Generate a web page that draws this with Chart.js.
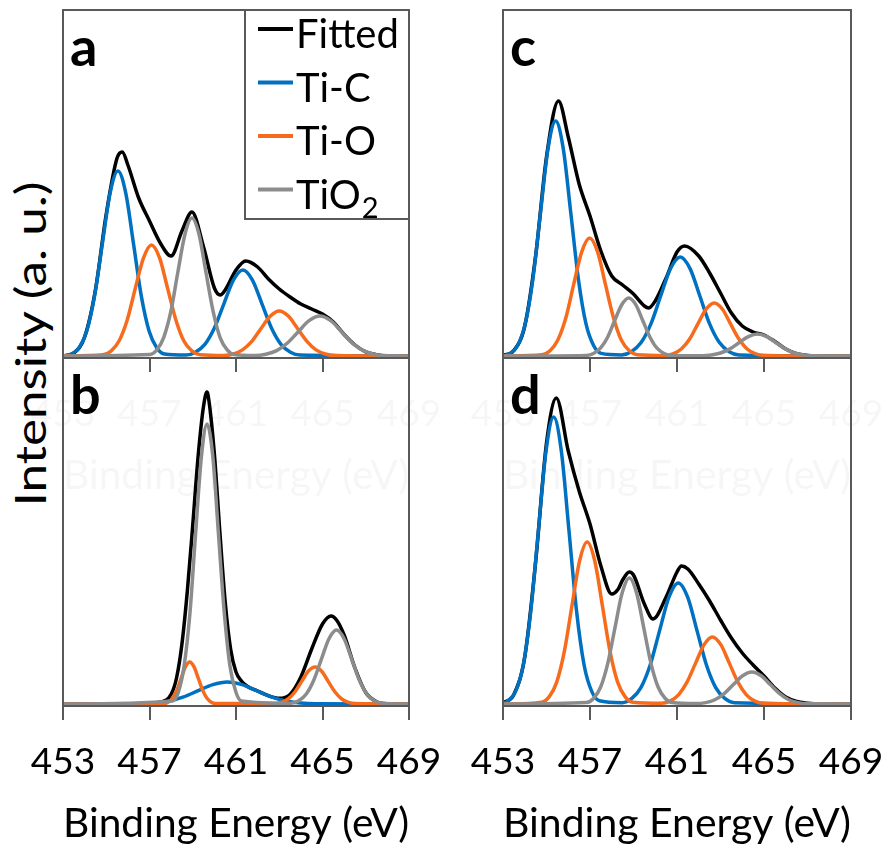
<!DOCTYPE html>
<html>
<head>
<meta charset="utf-8">
<script src="https://cdn.jsdelivr.net/npm/chart.js@4.4.1/dist/chart.umd.min.js"></script>
<style>
  html, body { margin: 0; padding: 0; background: #fff; }
  body { position: relative; width: 887px; height: 848px; overflow: hidden; font-family: Lato, sans-serif; }
  canvas { position: absolute; }
  #ytitle {
    position: absolute; left: 30px; top: 344px;
    font-size: 42px; line-height: 1; white-space: nowrap; color: #000;
    transform: translate(-50%, -50%) rotate(-90deg) scaleX(1.22);
  }
</style>
</head>
<body>
<div id="ytitle">Intensity (a. u.)</div>
<script>
// x axis
const energyTicks = [453, 457, 461, 465, 469];
const seriesNames = ['Fitted', 'Ti-C', 'Ti-O', 'TiO₂'];

// panel a
const fitA_E = [453, 453.5, 454, 454.5, 455, 455.5, 455.74, 456, 456.5, 457, 457.5, 458, 458.5, 458.96, 459.5, 460, 460.27, 460.5, 461, 461.45, 462, 462.5, 463, 463.5, 464, 464.5, 465, 465.5, 466, 466.5, 467, 467.5, 468, 469];
const fitA_I = [0, 3, 19, 66, 142, 198, 204, 191, 158, 135, 113, 100, 125, 144, 109, 68, 61, 66, 86, 95, 89, 77, 67, 59, 52, 47, 42, 34, 21.5, 11, 4.2, 1.3, 0, 0];
const tiCA_E = [453, 453.38, 453.74, 454.10, 454.46, 454.82, 455.18, 455.54, 455.90, 456.26, 456.62, 456.98, 457.34, 457.70, 458.68, 459.12, 459.56, 460.00, 460.44, 460.88, 461.32, 461.76, 462.20, 462.64, 463.08, 463.52, 463.96, 469];
const tiCA_I = [0, 2.0, 8.1, 25.0, 60.1, 112.3, 163.2, 185, 163.2, 112.3, 60.1, 25.0, 8.1, 2.0, 0.9, 3.8, 11.6, 28.0, 52.2, 75.9, 86, 75.9, 52.2, 28.0, 11.6, 3.8, 0.9, 0];
const tiOA_E = [453, 454.84, 455.22, 455.59, 455.97, 456.34, 456.72, 457.09, 457.47, 457.84, 458.22, 458.59, 458.97, 459.34, 460.45, 460.88, 461.30, 461.73, 462.15, 462.58, 463.00, 463.43, 463.85, 464.28, 464.70, 465.13, 465.55, 469];
const tiOA_I = [0, 1.2, 4.9, 15.0, 36.1, 67.4, 97.9, 111, 97.9, 67.4, 36.1, 15.0, 4.9, 1.2, 0.5, 2.0, 6.1, 14.6, 27.3, 39.7, 45, 39.7, 27.3, 14.6, 6.1, 2.0, 0.5, 0];
const tio2A_E = [453, 457.01, 457.34, 457.66, 457.99, 458.31, 458.64, 458.96, 459.29, 459.61, 459.94, 460.26, 460.59, 460.91, 461.88, 462.38, 462.88, 463.38, 463.88, 464.38, 464.88, 465.38, 465.88, 466.38, 466.88, 467.38, 467.88, 469];
const tio2A_I = [0, 1.5, 6.1, 18.7, 44.8, 83.7, 121.8, 138, 121.8, 83.7, 44.8, 18.7, 6.1, 1.5, 0.4, 1.8, 5.4, 13.0, 24.3, 35.3, 40, 35.3, 24.3, 13.0, 5.4, 1.8, 0.4, 0];

// panel b
const fitB_E = [453, 456.5, 457, 457.5, 458, 458.25, 458.5, 458.75, 459, 459.25, 459.5, 459.66, 459.75, 460, 460.25, 460.5, 460.75, 461, 461.25, 461.5, 462, 462.5, 463, 463.5, 464, 464.5, 465, 465.4, 465.65, 466, 466.5, 467, 467.5, 468, 469];
const fitB_I = [0, 0.1, 0.6, 1.7, 9.7, 26, 60, 113, 179, 248, 298, 312, 303, 250, 173, 102, 55, 32, 23, 18, 13, 8.3, 5.7, 9.6, 27, 55, 80, 88, 84, 69, 36, 11.5, 2.3, 0.3, 0];
const tiCB_E = [453, 456.55, 457.23, 457.90, 458.58, 459.25, 459.93, 460.60, 461.28, 461.95, 462.63, 463.30, 463.98, 464.65, 469];
const tiCB_I = [0, 0.2, 1.0, 3.0, 7.1, 13.3, 19.4, 22, 19.4, 13.3, 7.1, 3.0, 1.0, 0.2, 0];
const tiOB_E = [453, 457.66, 457.86, 458.06, 458.26, 458.46, 458.66, 458.86, 459.06, 459.26, 459.46, 459.66, 459.86, 460.06, 462.79, 463.10, 463.41, 463.72, 464.03, 464.34, 464.65, 464.96, 465.27, 465.58, 465.89, 466.20, 466.51, 469];
const tiOB_I = [0, 0.5, 1.8, 5.7, 13.6, 25.5, 37.1, 42, 37.1, 25.5, 13.6, 5.7, 1.8, 0.5, 0.4, 1.6, 5.0, 12.0, 22.4, 32.7, 37, 32.7, 22.4, 12.0, 5.0, 1.6, 0.4, 0];
const tio2B_E = [453, 458.07, 458.34, 458.60, 458.87, 459.13, 459.40, 459.66, 459.93, 460.19, 460.46, 460.72, 460.99, 461.25, 463.55, 463.90, 464.25, 464.60, 464.95, 465.30, 465.65, 466.00, 466.35, 466.70, 467.05, 467.40, 467.75, 469];
const tio2B_I = [0, 3.1, 12.3, 37.9, 90.9, 169.8, 247.1, 280, 247.1, 169.8, 90.9, 37.9, 12.3, 3.1, 0.8, 3.2, 10.0, 24.0, 44.9, 65.3, 74, 65.3, 44.9, 24.0, 10.0, 3.2, 0.8, 0];

// panel c
const fitC_E = [453, 453.5, 454, 454.5, 455, 455.55, 456, 456.5, 457, 457.5, 458, 458.5, 459, 459.5, 459.7, 460, 460.5, 461, 461.35, 462, 462.5, 463, 463.5, 464, 464.5, 465, 465.5, 466, 466.5, 467, 467.5, 469];
const fitC_I = [0.5, 5.5, 30, 100, 199, 255, 219, 172, 140, 105, 80, 71, 62, 50, 48, 55, 78, 104, 110, 100, 83, 63, 43, 30, 24, 21, 14.5, 7, 2.3, 0.6, 0, 0];
const tiCC_E = [453, 453.32, 453.67, 454.02, 454.37, 454.72, 455.07, 455.42, 455.77, 456.12, 456.47, 456.82, 457.17, 457.52, 458.45, 458.90, 459.35, 459.80, 460.25, 460.70, 461.15, 461.60, 462.05, 462.50, 462.95, 463.40, 463.85, 469];
const tiCC_I = [0, 2.6, 10.3, 31.8, 76.3, 142.5, 207.4, 235, 207.4, 142.5, 76.3, 31.8, 10.3, 2.6, 1.1, 4.3, 13.4, 32.1, 60.0, 87.4, 99, 87.4, 60.0, 32.1, 13.4, 4.3, 1.1, 0];
const tiOC_E = [453, 454.79, 455.16, 455.52, 455.89, 456.25, 456.62, 456.98, 457.35, 457.71, 458.08, 458.44, 458.81, 459.17, 460.46, 460.84, 461.21, 461.59, 461.96, 462.34, 462.71, 463.09, 463.46, 463.84, 464.21, 464.59, 464.96, 469];
const tiOC_I = [0, 1.3, 5.2, 16.0, 38.3, 71.6, 104.1, 118, 104.1, 71.6, 38.3, 16.0, 5.2, 1.3, 0.6, 2.3, 7.2, 17.2, 32.1, 46.8, 53, 46.8, 32.1, 17.2, 7.2, 2.3, 0.6, 0];
const tio2C_E = [453, 456.83, 457.16, 457.48, 457.81, 458.13, 458.46, 458.78, 459.11, 459.43, 459.76, 460.08, 460.41, 460.73, 462.15, 462.58, 463.00, 463.43, 463.85, 464.28, 464.70, 465.13, 465.55, 465.98, 466.40, 466.83, 467.25, 469];
const tio2C_I = [0, 0.6, 2.5, 7.8, 18.8, 35.2, 51.2, 58, 51.2, 35.2, 18.8, 7.8, 2.5, 0.6, 0.2, 1.0, 3.0, 7.1, 13.3, 19.4, 22, 19.4, 13.3, 7.1, 3.0, 1.0, 0.2, 0];

// panel d
const fitD_E = [453, 453.5, 454, 454.5, 455, 455.45, 456, 456.5, 457, 457.5, 458, 458.3, 458.5, 458.81, 459, 459.5, 459.9, 460.5, 461, 461.2, 461.5, 462, 462.5, 463, 463.5, 464, 464.5, 465, 465.5, 466, 466.5, 467, 467.5, 469];
const fitD_I = [1, 9.5, 47, 142, 261, 306, 253, 213, 180, 138, 110, 115, 124, 132, 129, 100, 85, 107, 132, 138, 135, 120, 103, 84, 66, 51, 39, 28, 16, 7, 2.5, 0.8, 0, 0];
const tiCD_E = [453, 453.23, 453.58, 453.93, 454.28, 454.63, 454.98, 455.33, 455.68, 456.03, 456.38, 456.73, 457.08, 457.43, 458.48, 458.91, 459.34, 459.77, 460.20, 460.63, 461.06, 461.49, 461.92, 462.35, 462.78, 463.21, 463.64, 469];
const tiCD_I = [0, 3.2, 12.6, 38.8, 93.2, 174.1, 253.3, 287, 253.3, 174.1, 93.2, 38.8, 12.6, 3.2, 1.3, 5.3, 16.4, 39.3, 73.4, 106.8, 121, 106.8, 73.4, 39.3, 16.4, 5.3, 1.3, 0];
const tiOD_E = [453, 454.77, 455.12, 455.47, 455.82, 456.17, 456.52, 456.87, 457.22, 457.57, 457.92, 458.27, 458.62, 458.97, 460.29, 460.68, 461.07, 461.46, 461.85, 462.24, 462.63, 463.02, 463.41, 463.80, 464.19, 464.58, 464.97, 469];
const tiOD_I = [0, 1.8, 7.1, 21.9, 52.6, 98.3, 143.0, 162, 143.0, 98.3, 52.6, 21.9, 7.1, 1.8, 0.7, 2.9, 9.1, 21.8, 40.6, 59.1, 67, 59.1, 40.6, 21.8, 9.1, 2.9, 0.7, 0];
const tio2D_E = [453, 456.83, 457.16, 457.49, 457.82, 458.15, 458.48, 458.81, 459.14, 459.47, 459.80, 460.13, 460.46, 460.79, 461.89, 462.32, 462.74, 463.17, 463.59, 464.02, 464.44, 464.87, 465.29, 465.72, 466.14, 466.57, 466.99, 469];
const tio2D_I = [0, 1.4, 5.5, 17.0, 40.9, 76.4, 111.2, 126, 111.2, 76.4, 40.9, 17.0, 5.5, 1.4, 0.4, 1.4, 4.3, 10.4, 19.4, 28.2, 32, 28.2, 19.4, 10.4, 4.3, 1.4, 0.4, 0];

const lineColors = ['#000000', '#0070C0', '#F76B1C', '#8C8C8C'];
const frameColor = '#595959';
const ghost = 'rgba(0,0,0,0.035)';

// box around the plot area plus the panel letter
const panelFrame = {
  id: 'panelFrame',
  afterDatasetsDraw(chart, args, opts) {
    const {ctx, chartArea: {left, top, right, bottom}} = chart;
    ctx.save();
    ctx.strokeStyle = frameColor;
    ctx.lineWidth = 2;
    ctx.strokeRect(left, top, right - left, bottom - top);
    ctx.fillStyle = '#000';
    ctx.font = 'bold 54px Lato';
    ctx.textBaseline = 'alphabetic';
    ctx.fillText(opts.tag, left + 7, top + 56);
    ctx.restore();
  }
};

// boxed legend in the top right corner of panel a
const legendBox = {
  id: 'legendBox',
  afterDraw(chart) {
    const {ctx, chartArea: {top, right}} = chart;
    const w = 164, h = 209;
    ctx.save();
    ctx.strokeStyle = frameColor;
    ctx.lineWidth = 2;
    ctx.strokeRect(right - w, top, w, h);
    chart.data.datasets.forEach((ds, i) => {
      const base = top + 38 + i * 53.5;
      const x0 = right - 151;
      ctx.strokeStyle = ds.borderColor;
      ctx.lineWidth = 4;
      ctx.beginPath();
      ctx.moveTo(x0, base - 19);
      ctx.lineTo(x0 + 35, base - 19);
      ctx.stroke();
      ctx.fillStyle = '#000';
      ctx.textBaseline = 'alphabetic';
      ctx.font = '40px Lato';
      let text = ds.label, sub = '';
      if (text.endsWith('₂')) { text = text.slice(0, -1); sub = '2'; }
      ctx.fillText(text, x0 + 38, base);
      if (sub) {
        const tw = ctx.measureText(text).width;
        ctx.font = '29px Lato';
        ctx.fillText(sub, x0 + 39 + tw, base + 9);
      }
    });
    ctx.restore();
  }
};

function makeChart(p) {
  const canvas = document.createElement('canvas');
  canvas.width = p.width;
  canvas.height = p.height;
  canvas.style.left = p.left + 'px';
  canvas.style.top = p.top + 'px';
  document.body.appendChild(canvas);

  const textColor = p.ghostAxis ? ghost : '#000';
  const datasets = p.series.map(([E, I], i) => ({
    label: seriesNames[i],
    data: E.map((x, j) => ({x, y: I[j]})),
    borderColor: lineColors[i],
    borderWidth: 3.5,
    pointRadius: 0,
    fill: false,
    cubicInterpolationMode: 'monotone',
    order: p.series.length - i
  }));

  return new Chart(canvas, {
    type: 'line',
    data: {datasets},
    options: {
      responsive: false,
      animation: false,
      events: [],
      layout: {padding: {left: p.padLeft, right: p.padRight, top: p.padTop, bottom: 0}},
      plugins: {
        legend: {display: false},
        tooltip: {enabled: false},
        panelFrame: {tag: p.tag}
      },
      scales: {
        x: {
          type: 'linear',
          min: 453,
          max: 469,
          afterBuildTicks: s => { s.ticks = energyTicks.map(v => ({value: v})); },
          afterFit: s => { s.height = 142; },
          border: {display: false},
          grid: {drawOnChartArea: false, drawTicks: true, tickLength: 14, color: frameColor, lineWidth: 2},
          ticks: {
            color: textColor,
            // tall line box pushes the labels down without widening the side padding
            font: {family: 'Lato', size: 37, lineHeight: 2.3},
            padding: 0,
            maxRotation: 0,
            autoSkip: false
          },
          title: {
            display: true,
            text: 'Binding Energy (eV)',
            color: textColor,
            font: {family: 'Lato', size: 41, lineHeight: 1},
            padding: {top: 0, bottom: 4}
          }
        },
        y: {display: false, min: -2, max: 346}
      }
    },
    plugins: p.legend ? [panelFrame, legendBox] : [panelFrame]
  });
}

const panels = [
  {tag: 'a', left: 0, top: 0, width: 450, height: 500, padLeft: 63, padRight: 41, padTop: 10, ghostAxis: true, legend: true,
   series: [[fitA_E, fitA_I], [tiCA_E, tiCA_I], [tiOA_E, tiOA_I], [tio2A_E, tio2A_I]]},
  {tag: 'c', left: 445, top: 0, width: 442, height: 500, padLeft: 58, padRight: 36, padTop: 10, ghostAxis: true,
   series: [[fitC_E, fitC_I], [tiCC_E, tiCC_I], [tiOC_E, tiOC_I], [tio2C_E, tio2C_I]]},
  {tag: 'b', left: 0, top: 340, width: 450, height: 508, padLeft: 63, padRight: 41, padTop: 18,
   series: [[fitB_E, fitB_I], [tiCB_E, tiCB_I], [tiOB_E, tiOB_I], [tio2B_E, tio2B_I]]},
  {tag: 'd', left: 445, top: 340, width: 442, height: 508, padLeft: 58, padRight: 36, padTop: 18,
   series: [[fitD_E, fitD_I], [tiCD_E, tiCD_I], [tiOD_E, tiOD_I], [tio2D_E, tio2D_I]]}
];

panels.forEach(makeChart);
</script>
</body>
</html>
